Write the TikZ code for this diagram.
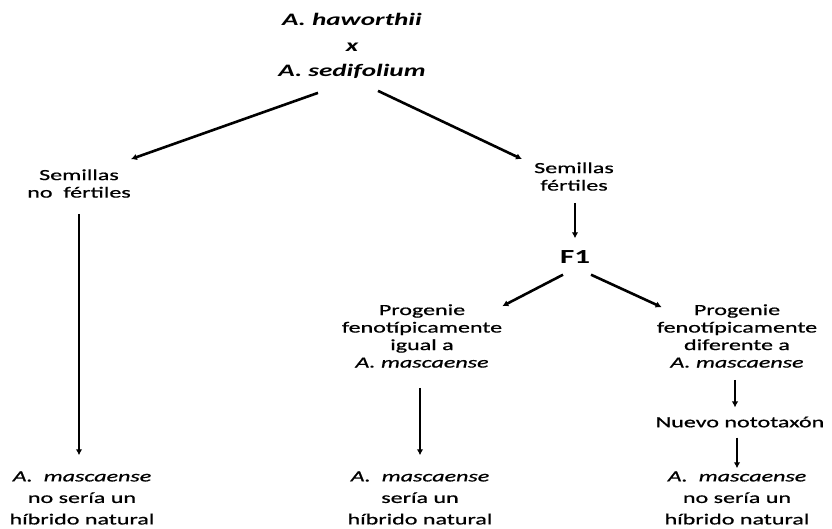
\documentclass[tikz,border=0pt]{standalone}
\usepackage{fontspec}
\setmainfont{Carlito}[FakeStretch=1.55,UprightFeatures={FakeBold=0.8},ItalicFeatures={FakeBold=0.8}]
\usetikzlibrary{arrows.meta}
\begin{document}
\begin{tikzpicture}[x=1pt,y=-1pt,
  arr/.style={line width=2.6pt,-{Latex[length=6pt,width=6.5pt]}},
  txt/.style={align=center,inner sep=0pt,font=\fontsize{15.5}{17.5}\selectfont},
  bot/.style={align=center,inner sep=0pt,font=\fontsize{15.5}{21.5}\selectfont},
  ttl/.style={align=center,inner sep=0pt,font=\fontsize{17.5}{25.5}\selectfont\bfseries\itshape},
  fone/.style={inner sep=0pt,font=\fontsize{20}{24}\selectfont\bfseries}]
\useasboundingbox (0,0) rectangle (832,528);
\node[ttl] (title) at (352,46) {A. haworthii\\x\\A. sedifolium};
\node[txt] (snf) at (79,183.5) {Semillas\\no\ \ fértiles};
\node[txt] (sf) at (574,176.5) {Semillas\\fértiles};
\node[fone] (f1) at (575,257) {F1};
\node[txt] (p1) at (422,336) {Progenie\\fenotípicamente\\igual a\\\textit{A. mascaense}};
\node[txt] (p2) at (737,336) {Progenie\\fenotípicamente\\diferente a\\\textit{A. mascaense}};
\node[txt] (nuevo) at (740,422) {Nuevo nototaxón};
\node[bot] (b1) at (82,498) {\textit{A.\ \ mascaense}\\no sería un\\híbrido natural};
\node[bot] (b2) at (420,498) {\textit{A.\ \ mascaense}\\sería un\\híbrido natural};
\node[bot] (b3) at (737,498) {\textit{A.\ \ mascaense}\\no sería un\\híbrido natural};
\draw[arr] ([xshift=-34pt,yshift=-14pt]title.south) -- ([yshift=10pt]snf.north east);
\draw[arr] ([xshift=26pt,yshift=-12pt]title.south) -- ([xshift=-12pt,yshift=3pt]sf.north west);
\draw[arr,shorten <=16pt,shorten >=16pt] (snf.south) -- (snf.south |- b1.north);
\draw[arr,shorten <=12pt,shorten >=12pt] (sf.south -| f1.north) -- (f1.north);
\draw[arr] ([xshift=-12pt,yshift=-11pt]f1.south) -- ([yshift=-2pt]p1.north east);
\draw[arr] ([xshift=16pt,yshift=-11pt]f1.south) -- ([xshift=5pt,yshift=-3pt]p2.north west);
\draw[arr,shorten <=20pt,shorten >=16pt] (b2.north |- p1.south) -- (b2.north);
\draw[arr,shorten <=12pt,shorten >=9pt] ([xshift=-2pt]p2.south) -- ([xshift=-2pt]p2.south |- nuevo.north);
\draw[arr,shorten <=10pt,shorten >=3pt] (b3.north |- nuevo.south) -- (b3.north);
\end{tikzpicture}
\end{document}
